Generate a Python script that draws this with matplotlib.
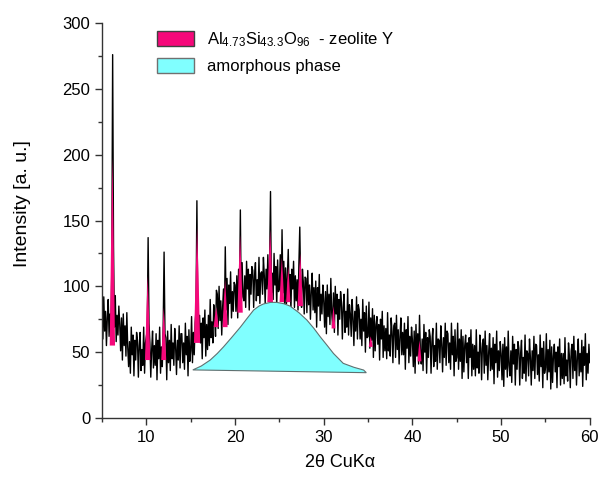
import numpy as np
import matplotlib.pyplot as plt
from matplotlib.ticker import MultipleLocator
from matplotlib.patches import Patch

plt.rcParams['font.family'] = ['Liberation Sans', 'DejaVu Sans']
plt.rcParams['mathtext.default'] = 'regular'

# Diffractogram, 2theta from 5 to 60 deg, step 0.1 deg (one row per degree)
two_theta_start = 5.0
two_theta_step = 0.1
intensity = [
    86, 60, 92, 66, 81, 55, 76, 90, 62, 79,
    64, 110, 276, 130, 69, 93, 58, 78, 63, 85,
    71, 51, 76, 44, 79, 55, 70, 47, 80, 54,
    39, 58, 34, 69, 48, 63, 32, 59, 44, 65,
    59, 31, 55, 65, 36, 52, 40, 69, 34, 57,
    62, 66, 137, 72, 57, 31, 52, 66, 38, 55,
    40, 64, 29, 59, 45, 69, 34, 54, 39, 70,
    126, 64, 61, 29, 66, 42, 59, 36, 71, 45,
    57, 40, 68, 54, 33, 59, 44, 70, 38, 64,
    64, 42, 57, 37, 72, 48, 62, 32, 67, 43,
    51, 77, 42, 65, 48, 72, 82, 165, 76, 60,
    78, 57, 72, 45, 76, 61, 82, 47, 71, 52,
    78, 55, 90, 61, 73, 57, 86, 76, 62, 97,
    94, 68, 100, 74, 89, 63, 84, 98, 76, 130,
    82, 106, 71, 101, 87, 111, 76, 96, 81, 103,
    101, 81, 108, 76, 113, 89, 158, 83, 118, 92,
    89, 108, 84, 119, 98, 113, 82, 109, 94, 115,
    112, 84, 108, 118, 89, 105, 93, 122, 87, 110,
    111, 94, 122, 108, 87, 113, 98, 124, 92, 118,
    172, 95, 110, 90, 125, 101, 115, 85, 120, 96,
    98, 124, 89, 143, 95, 119, 82, 114, 87, 107,
    128, 94, 109, 82, 113, 98, 119, 84, 108, 89,
    105, 82, 117, 145, 100, 84, 113, 103, 79, 107,
    106, 80, 112, 86, 101, 75, 96, 110, 82, 99,
    80, 104, 69, 99, 85, 109, 74, 94, 79, 101,
    89, 69, 96, 64, 101, 77, 94, 71, 106, 80,
    70, 95, 65, 100, 79, 94, 63, 90, 75, 96,
    88, 60, 84, 94, 65, 81, 69, 98, 63, 86,
    79, 62, 90, 76, 55, 81, 66, 92, 60, 86,
    82, 60, 75, 55, 90, 66, 80, 50, 85, 61,
    62, 88, 53, 76, 59, 83, 46, 78, 51, 71,
    77, 56, 71, 44, 75, 60, 81, 46, 70, 51,
    68, 45, 80, 51, 63, 47, 76, 66, 42, 70,
    72, 46, 78, 52, 67, 41, 62, 76, 48, 65,
    48, 72, 37, 67, 53, 77, 42, 62, 47, 69,
    59, 39, 66, 34, 71, 47, 64, 41, 78, 50,
    41, 60, 36, 71, 50, 65, 34, 61, 46, 67,
    62, 34, 58, 68, 39, 55, 43, 72, 37, 60,
    59, 42, 70, 56, 35, 61, 46, 72, 40, 66,
    64, 42, 57, 37, 72, 48, 62, 32, 67, 43,
    46, 72, 37, 60, 43, 67, 30, 62, 35, 55,
    63, 42, 57, 30, 61, 46, 67, 32, 56, 37,
    55, 32, 67, 38, 50, 34, 63, 53, 29, 57,
    60, 34, 66, 40, 55, 29, 50, 64, 36, 53,
    37, 61, 26, 56, 42, 66, 31, 51, 36, 58,
    49, 29, 56, 24, 61, 37, 54, 31, 66, 40,
    32, 51, 27, 62, 41, 56, 25, 52, 37, 58,
    53, 25, 49, 59, 30, 46, 34, 63, 28, 51,
    49, 32, 60, 46, 25, 51, 36, 62, 30, 56,
    55, 33, 48, 28, 63, 39, 53, 23, 58, 34,
    38, 64, 29, 52, 35, 59, 22, 54, 27, 47,
    56, 35, 50, 23, 54, 39, 60, 25, 49, 30,
    49, 26, 61, 32, 44, 28, 57, 47, 23, 51,
    56, 30, 62, 36, 51, 25, 46, 60, 32, 49,
    35, 59, 24, 54, 40, 64, 29, 49, 34, 56,
    42,
]
two_theta = two_theta_start + two_theta_step * np.arange(len(intensity))

# Zeolite Y reflections (pink wedges): position, top, base level
peak_pos = [6.17, 10.15, 11.96, 15.72, 17.87, 18.88, 20.57, 23.96, 25.28, 26.0, 27.35, 31.1, 35.3, 40.8]
peak_top = [198, 108, 84, 145, 84, 105, 139, 143, 122, 115, 125, 85, 62, 59]
peak_base = [55, 44, 44, 57, 69, 69, 80, 88, 88, 88, 85, 68, 54, 43]
peak_halfwidth = [0.3, 0.3, 0.28, 0.35, 0.28, 0.28, 0.3, 0.32, 0.26, 0.24, 0.3, 0.22, 0.22, 0.22]

# Amorphous hump outline (top edge, then straight bottom back to start)
amorph_x = [15.24, 16.2, 17.2, 18.0, 18.7, 19.6, 20.6, 21.4, 22.1, 22.7, 23.2, 24.0, 24.7,
            25.5, 26.2, 27.2, 28.1, 28.9, 29.6, 30.4, 31.1, 32.2, 33.4, 34.5, 34.8]
amorph_y = [36.5, 39.5, 44, 49, 54, 61, 69, 76, 82, 85, 86.6, 87.8, 87.8,
            86.8, 85, 80, 74.4, 68, 61.7, 55, 49, 41.5, 38.5, 36.4, 34.4]

pink = '#F5087A'
cyan = '#80FFFF'

fig = plt.figure(figsize=(6, 4.9), dpi=100)
ax = fig.add_axes([0.17, 0.147, 0.813, 0.806])

ax.plot(two_theta, intensity, color='black', lw=1.0, zorder=2)

# each reflection as a narrow wedge: wide base, full shoulders, pointed top
for p, t, b, w in zip(peak_pos, peak_top, peak_base, peak_halfwidth):
    mid = b + 0.6 * (t - b)
    ax.fill([p - w, p - 0.45 * w, p, p + 0.45 * w, p + w], [b, mid, t, mid, b],
            color=pink, lw=0, zorder=3)

ax.fill(amorph_x, amorph_y, facecolor=cyan, edgecolor='#607070', lw=0.8, zorder=4)

ax.set_xlim(5, 60)
ax.set_ylim(0, 300)
ax.xaxis.set_major_locator(MultipleLocator(10))
ax.xaxis.set_minor_locator(MultipleLocator(5))
ax.yaxis.set_major_locator(MultipleLocator(50))
ax.yaxis.set_minor_locator(MultipleLocator(25))
ax.tick_params(which='major', direction='out', length=5, width=1, labelsize=12,
               colors='#333333', labelcolor='black')
ax.tick_params(which='minor', direction='out', length=3, width=1, colors='#333333')
for s in ['top', 'right']:
    ax.spines[s].set_visible(False)
for s in ['left', 'bottom']:
    ax.spines[s].set_color('#333333')
    ax.spines[s].set_linewidth(1)

ax.set_xlabel('2θ CuKα', fontsize=13)
ax.set_ylabel('Intensity [a. u.]', fontsize=14)
ax.xaxis.set_label_coords(0.488, -0.092)
ax.yaxis.set_label_coords(-0.145, 0.542)

handles = [Patch(facecolor=pink, edgecolor='#404040', lw=1),
           Patch(facecolor=cyan, edgecolor='#707070', lw=1)]
labels = ['Al$_{4.73}$Si$_{43.3}$O$_{96}$  - zeolite Y', 'amorphous phase']
ax.legend(handles, labels, loc='upper left', bbox_to_anchor=(0.083, 1.02), frameon=False,
          fontsize=12, handlelength=2.2, handleheight=1.0, labelspacing=0.55, handletextpad=0.8)

fig.savefig('out.png', dpi=100)
